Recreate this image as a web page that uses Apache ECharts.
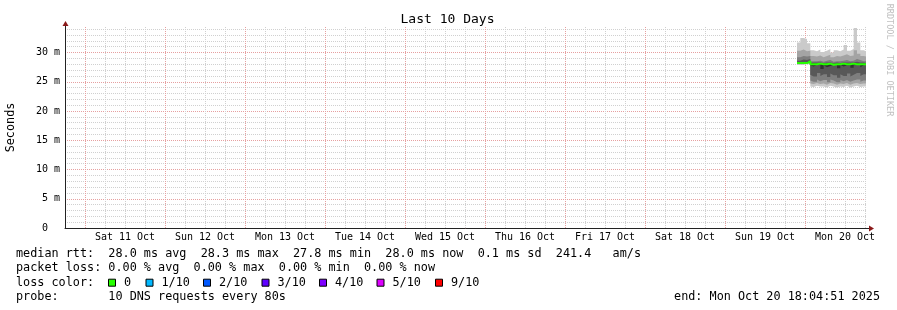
<!DOCTYPE html>
<html><head><meta charset="utf-8">
<script src="https://cdn.jsdelivr.net/npm/echarts@6/dist/echarts.min.js"></script>
<style>html,body{margin:0;padding:0;background:#fff}#c{width:897px;height:310px}</style>
</head><body><div id="c"></div>
<script>
// ---- data (hours relative to Sat 11 Oct 2025 00:00) ----
const title = 'Last 10 Days';
const yAxisName = 'Seconds';
const dayLabels = ['Sat 11 Oct','Sun 12 Oct','Mon 13 Oct','Tue 14 Oct','Wed 15 Oct','Thu 16 Oct','Fri 17 Oct','Sat 18 Oct','Sun 19 Oct','Mon 20 Oct'];
const axisStart = -6;      // Fri 10 Oct 18:00
const axisEnd = 234.3;     // Mon 20 Oct ~18:05
const yMax = 34.36;        // milliseconds

// interval start times (hours)
const times = [213.6,214.6,215.6,216.6,217.6,218.6,219.6,220.6,221.6,222.6,223.6,224.6,225.6,226.6,227.6,228.6,229.6,230.6,231.6,232.6,233.6];
const dataEnd = 234.3;

// sorted pings (ms), lowest p1 ... highest p10
const p1  = [27.9,27.9,27.9,28.0, 24.2,24.1,24.3,24.2,24.2,24.0,24.3,24.2,24.0,24.2,24.1,24.3,24.0,24.2,24.3,24.1,24.2];
const p2  = [28.0,28.0,28.0,28.1, 24.7,24.6,24.8,24.6,24.7,24.5,24.8,24.7,24.5,24.7,24.6,24.8,24.5,24.7,24.8,24.6,24.7];
const p3  = [28.1,28.1,28.1,28.2, 25.2,25.0,25.4,25.1,25.3,24.9,25.4,25.2,24.9,25.3,25.1,25.3,25.0,25.2,25.4,25.0,25.2];
const p4  = [28.1,28.2,28.2,28.3, 26.2,25.9,26.5,26.0,26.3,25.8,26.4,26.1,25.7,26.3,26.0,26.4,25.9,26.2,26.5,26.0,26.3];
const p5  = [28.2,28.2,28.2,28.4, 27.8,27.6,27.9,27.2,27.8,27.5,27.7,27.9,27.3,27.9,27.6,27.8,27.4,27.8,27.9,27.5,27.8];
const p6  = [28.3,28.3,28.3,28.6, 28.2,28.1,28.1,28.1,28.1,28.2,28.0,28.1,28.1,28.1,28.2,28.1,28.1,28.2,28.1,28.1,28.1];
const p7  = [28.6,28.8,28.7,28.9, 28.3,28.3,28.3,28.2,28.3,28.3,28.2,28.3,28.2,28.3,28.3,28.3,28.3,28.4,28.3,28.3,28.2];
const p8  = [29.2,29.4,29.3,29.4, 28.5,28.5,28.6,28.4,28.6,28.7,28.4,28.5,28.5,28.6,28.7,28.5,28.6,28.9,28.7,28.5,28.5];
const p9  = [30.3,30.5,30.2,30.3, 29.4,29.3,29.5,29.2,29.4,29.6,29.2,29.4,29.3,29.5,29.7,29.4,29.5,30.4,29.8,29.4,29.3];
const p10 = [31.7,32.5,32.3,31.6, 30.4,30.2,30.5,30.1,30.3,30.6,30.0,30.4,30.2,30.5,31.3,30.3,30.6,34.2,31.7,30.4,30.2];
const median = [28.2,28.2,28.2,28.5, 28.0,28.0,28.1,28.0,28.0,28.1,27.9,28.0,28.0,28.1,28.0,28.0,28.1,28.0,28.0,28.0,28.0];

const statsLine1 = 'median rtt:  28.0 ms avg  28.3 ms max  27.8 ms min  28.0 ms now  0.1 ms sd  241.4   am/s';
const statsLine2 = 'packet loss: 0.00 % avg  0.00 % max  0.00 % min  0.00 % now';
const lossTitle = 'loss color:';
const lossLabels = ['0','1/10','2/10','3/10','4/10','5/10','9/10'];
const lossColors = ['#26ff00','#00b8ff','#0059ff','#5e00ff','#7e00ff','#dd00ff','#ff0000'];
const probeLine = 'probe:       10 DNS requests every 80s';
const endLine = 'end: Mon Oct 20 18:04:51 2025';
const credit = 'RRDTOOL / TOBI OETIKER';

// ---- styling / layout ----
const MONO = 'DejaVu Sans Mono';
const BASE_MS = Date.UTC(2025, 9, 11);
const toMs = (h) => BASE_MS + h * 3600000;
const pings = [p1,p2,p3,p4,p5,p6,p7,p8,p9,p10];
const layerShades = ['#cacaca','#a4a4a4','#7e7e7e','#585858','#323232'];
const GRAY = '#d0d0d0', RED = '#e6a0a0';
const G = {left:65, top:27, width:801, height:201};

function stepData(arr){
  const d = times.map((t,i)=>[toMs(t), arr[i]]);
  d.push([toMs(dataEnd), arr[arr.length-1]]);
  return d;
}

// nested smoke layers: [p1,p10], [p2,p9], ... [p5,p6], inner drawn over outer
const series = [];
for (let k=0;k<5;k++){
  const lo = pings[k], hi = pings[9-k];
  const diff = hi.map((v,i)=> +(v - lo[i]).toFixed(3));
  series.push({type:'line', xAxisIndex:1, stack:'L'+k, step:'end', symbol:'none', silent:true, z:2,
    lineStyle:{width:0, opacity:0}, data: stepData(lo)});
  series.push({type:'line', xAxisIndex:1, stack:'L'+k, step:'end', symbol:'none', silent:true, z:2,
    lineStyle:{width:0, opacity:0}, areaStyle:{color:layerShades[k], opacity:1},
    data: stepData(diff)});
}
series.push({type:'line', xAxisIndex:1, step:'end', symbol:'none', silent:true, z:5,
  lineStyle:{width:2, color:'#26ff00'}, data: stepData(median)});

const chart = echarts.init(document.getElementById('c'), null, {renderer:'canvas'});

const lf = '11.8px "DejaVu Sans Mono"';
const graphics = [];
graphics.push({type:'text', x:447.5, y:19.5, style:{text:title, align:'center', verticalAlign:'middle', font:'13px "DejaVu Sans Mono"', fill:'#000'}});
graphics.push({type:'text', rotation:Math.PI/2, x:11, y:127.5, style:{text:yAxisName, align:'center', verticalAlign:'middle', font:lf, fill:'#000'}});
graphics.push({type:'text', rotation:-Math.PI/2, x:889, y:60, style:{text:credit, align:'center', verticalAlign:'middle', font:'8.5px "DejaVu Sans Mono"', fill:'#c0c0c0'}});
// axis arrows
const ax0 = G.left, ay0 = G.top + G.height, axR = G.left + G.width;
const AR = '#8b1a1a';
graphics.push({type:'line', shape:{x1:axR, y1:ay0+0.5, x2:axR+4, y2:ay0+0.5}, style:{stroke:'#222', lineWidth:1}, z:10});
graphics.push({type:'polygon', shape:{points:[[axR+3,ay0-2.5],[axR+8,ay0+0.5],[axR+3,ay0+3.5]]}, style:{fill:AR}, z:10});
graphics.push({type:'line', shape:{x1:ax0+0.5, y1:G.top, x2:ax0+0.5, y2:G.top-2}, style:{stroke:'#222', lineWidth:1}, z:10});
graphics.push({type:'polygon', shape:{points:[[ax0-2.5,G.top-1],[ax0+0.5,G.top-6],[ax0+3.5,G.top-1]]}, style:{fill:AR}, z:10});
// legend text rows
const rowY = [254.3, 268.3, 282.7, 296.7];
graphics.push({type:'text', x:16, y:rowY[0], style:{text:statsLine1, verticalAlign:'middle', font:lf, fill:'#000'}});
graphics.push({type:'text', x:16, y:rowY[1], style:{text:statsLine2, verticalAlign:'middle', font:lf, fill:'#000'}});
graphics.push({type:'text', x:16, y:rowY[2], style:{text:lossTitle, verticalAlign:'middle', font:lf, fill:'#000'}});
const boxX = [108.5,146,203.5,262,319.5,377,435.5];
lossLabels.forEach((lab,i)=>{
  graphics.push({type:'rect', shape:{x:boxX[i], y:rowY[2]-3.5, width:7, height:7}, style:{fill:lossColors[i], stroke:'#000', lineWidth:1}});
  graphics.push({type:'text', x:boxX[i]+15.5, y:rowY[2], style:{text:lab, verticalAlign:'middle', font:lf, fill:'#000'}});
});
graphics.push({type:'text', x:16, y:rowY[3], style:{text:probeLine, verticalAlign:'middle', font:lf, fill:'#000'}});
graphics.push({type:'text', x:880, y:rowY[3], style:{text:endLine, align:'right', verticalAlign:'middle', font:lf, fill:'#000'}});

chart.setOption({
  animation:false,
  backgroundColor:'#ffffff',
  grid:{left:G.left, top:G.top, width:G.width, height:G.height, containLabel:false},
  xAxis:[
    {type:'value', min:axisStart, max:axisEnd, interval:6, z:0,
      axisLine:{show:true, onZero:false, lineStyle:{color:'#222', width:1}},
      axisTick:{show:false},
      axisLabel:{margin:4, fontFamily:MONO, fontSize:10, color:'#000',
        formatter:(v)=>{ const m=((v%24)+24)%24; return Math.abs(m-12)<1e-6 ? (dayLabels[Math.floor(v/24)]||'') : ''; }},
      splitLine:{show:true, showMaxLine:false, lineStyle:{color:[GRAY,RED,GRAY,GRAY], type:'dotted', width:1}}
    },
    {type:'time', min:toMs(axisStart), max:toMs(axisEnd), show:false,
      axisLine:{show:false}, axisLabel:{show:false}, axisTick:{show:false}, splitLine:{show:false}}
  ],
  yAxis:{type:'value', min:0, max:yMax, interval:1, z:0,
    axisLine:{show:true, onZero:false, lineStyle:{color:'#222', width:1}},
    axisTick:{show:false},
    axisLabel:{margin:5, fontFamily:MONO, fontSize:10, color:'#000',
      formatter:(v)=> (Math.abs(v%5)<1e-6 ? (v===0 ? '0  ' : v+' m') : '')},
    splitLine:{show:true, showMaxLine:false, lineStyle:{color:[RED,GRAY,GRAY,GRAY,GRAY], type:'dotted', width:1}}
  },
  series: series,
  graphic: graphics
});
</script></body></html>
